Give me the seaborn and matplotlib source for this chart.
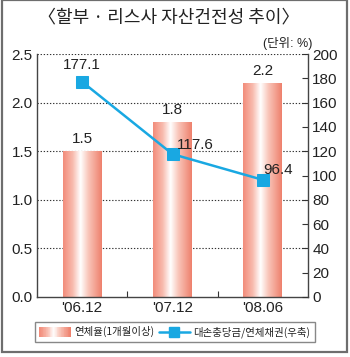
import numpy as np
import pandas as pd
import matplotlib
matplotlib.use("Agg")
import matplotlib.pyplot as plt
import seaborn as sns
from matplotlib import font_manager
from matplotlib.colors import LinearSegmentedColormap
from matplotlib.patches import Rectangle
from matplotlib.lines import Line2D
from matplotlib.legend_handler import HandlerBase

# Data
periods = ["'06.12", "'07.12", "'08.06"]
delinquency_rate = [1.5, 1.8, 2.2]          # left axis
allowance_ratio = [177.1, 117.6, 96.4]      # right axis
left_ticks = [0.0, 0.5, 1.0, 1.5, 2.0, 2.5]
right_ticks = list(range(0, 201, 20))

title = "〈할부 · 리스사 자산건전성 추이〉"
unit_label = "(단위: %)"
bar_name = "연체율(1개월이상)"
line_name = "대손충당금/연체채권(우축)"

sns.set_theme(style="white")
available = {f.name for f in font_manager.fontManager.ttflist}
num_font = "Liberation Sans Narrow" if "Liberation Sans Narrow" in available else "Liberation Sans"
kr_font = "Noto Sans CJK KR"
plt.rcParams["font.family"] = [num_font, kr_font, "DejaVu Sans"]

text_color = "#222222"
line_color = "#19A8E2"
grad_cmap = LinearSegmentedColormap.from_list(
    "salmon_tube",
    [(0.0, "#F28C7A"), (0.25, "#F8BBAE"), (0.45, "#FFFFFF"),
     (0.65, "#F9C6BA"), (1.0, "#EE806C")])

df = pd.DataFrame({"period": periods, "rate": delinquency_rate, "ratio": allowance_ratio})

fig = plt.figure(figsize=(3.5, 3.57), dpi=100)
ax = fig.add_axes([37 / 350, 1 - 297 / 357, 271 / 350, 243 / 357])

sns.barplot(data=df, x="period", y="rate", ax=ax, width=0.43,
            color="none", edgecolor="none", linewidth=0, zorder=2)

# fill each bar with a horizontal tube-like gradient
grad = np.linspace(0, 1, 256).reshape(1, -1)
for p in list(ax.patches):
    x0, y0 = p.get_x(), p.get_y()
    w, h = p.get_width(), p.get_height()
    ax.imshow(grad, extent=[x0, x0 + w, y0, y0 + h], aspect="auto",
              cmap=grad_cmap, zorder=2, interpolation="bilinear")
    ax.text(x0 + w / 2, y0 + h + 0.05, f"{h:.1f}", ha="center", va="bottom",
            fontsize=11, color=text_color, zorder=5)

ax.set_xlim(-0.5, 2.5)
ax.set_ylim(0, 2.5)
ax.set_yticks(left_ticks)
ax.set_yticklabels([f"{v:.1f}" for v in left_ticks], fontsize=11, color=text_color)
ax.set_xticks(range(len(periods)))
ax.set_xticklabels(periods, fontsize=11, color=text_color)
ax.set_xticks([0.5, 1.5], minor=True)
ax.tick_params(axis="x", which="major", length=0, pad=3)
ax.tick_params(axis="x", which="minor", direction="in", length=4, width=0.8, color="#333333", bottom=True)
ax.tick_params(axis="y", length=0, pad=3)
ax.set_xlabel("")
ax.set_ylabel("")
for t in left_ticks[1:]:
    ax.axhline(t, color="#333333", lw=0.8, ls=(0, (1.2, 1.6)), zorder=1)
for side in ["left", "bottom"]:
    ax.spines[side].set_color("#444444")
    ax.spines[side].set_linewidth(1.0)
ax.spines["top"].set_visible(False)
ax.spines["right"].set_visible(False)

ax2 = ax.twinx()
sns.lineplot(x=list(range(len(periods))), y=allowance_ratio, ax=ax2, color=line_color,
             lw=1.8, marker="s", markersize=8, markeredgecolor=line_color, zorder=4)
ax2.set_ylim(0, 200)
ax2.set_yticks(right_ticks)
ax2.set_yticklabels([str(v) for v in right_ticks], fontsize=11, color=text_color)
ax2.tick_params(axis="y", direction="in", length=4, width=0.8, color="#333333", pad=3)
for side in ["top", "left", "bottom"]:
    ax2.spines[side].set_visible(False)
ax2.spines["right"].set_color("#444444")
ax2.spines["right"].set_linewidth(1.0)

label_offsets = [(0.0, 8, "center", "bottom"), (0.05, 2, "left", "bottom"), (0.0, 2, "left", "bottom")]
for i, v in enumerate(allowance_ratio):
    dx, dy, ha, va = label_offsets[i]
    ax2.text(i + dx, v + dy, f"{v:.1f}", ha=ha, va=va, fontsize=11, color=text_color, zorder=6)

fig.text(169 / 350, 1 - 17 / 357, title, ha="center", va="center", fontsize=13,
         color=text_color, family=[kr_font, "DejaVu Sans"])
fig.text(312 / 350, 1 - 43 / 357, unit_label, ha="right", va="center", fontsize=9,
         color=text_color, family=[num_font, kr_font])


class GradientHandler(HandlerBase):
    def create_artists(self, legend, orig_handle, xdescent, ydescent, width, height, fontsize, trans):
        n = 40
        x0, y0 = -xdescent, -ydescent - 0.2 * height
        h = height * 1.4
        arts = []
        for i in range(n):
            r = Rectangle((x0 + i * width / n, y0), width / n * 1.05, h,
                          facecolor=grad_cmap(i / (n - 1)), edgecolor="none", transform=trans)
            arts.append(r)
        return arts


bar_handle = Rectangle((0, 0), 1, 1)
line_handle = Line2D([], [], color=line_color, lw=1.8, marker="s", markersize=7)
leg = fig.legend([bar_handle, line_handle], [bar_name, line_name],
                 handler_map={Rectangle: GradientHandler()},
                 loc="center", bbox_to_anchor=(175 / 350, 1 - 332 / 357), ncol=2,
                 frameon=True, fancybox=False, edgecolor="#888888", framealpha=1,
                 prop={"family": [kr_font], "size": 7.5}, handlelength=3.0,
                 handletextpad=0.35, columnspacing=0.4, borderpad=0.45,
                 borderaxespad=0)
leg.get_frame().set_linewidth(1.0)
for t in leg.get_texts():
    t.set_color(text_color)

# outer border
fig.patches.append(Rectangle((2 / 350, 1 - 352 / 357), 345 / 350, 352 / 357,
                             transform=fig.transFigure, fill=False,
                             edgecolor="#6E6E6E", lw=1.6))

fig.savefig("out.png", dpi=100)
